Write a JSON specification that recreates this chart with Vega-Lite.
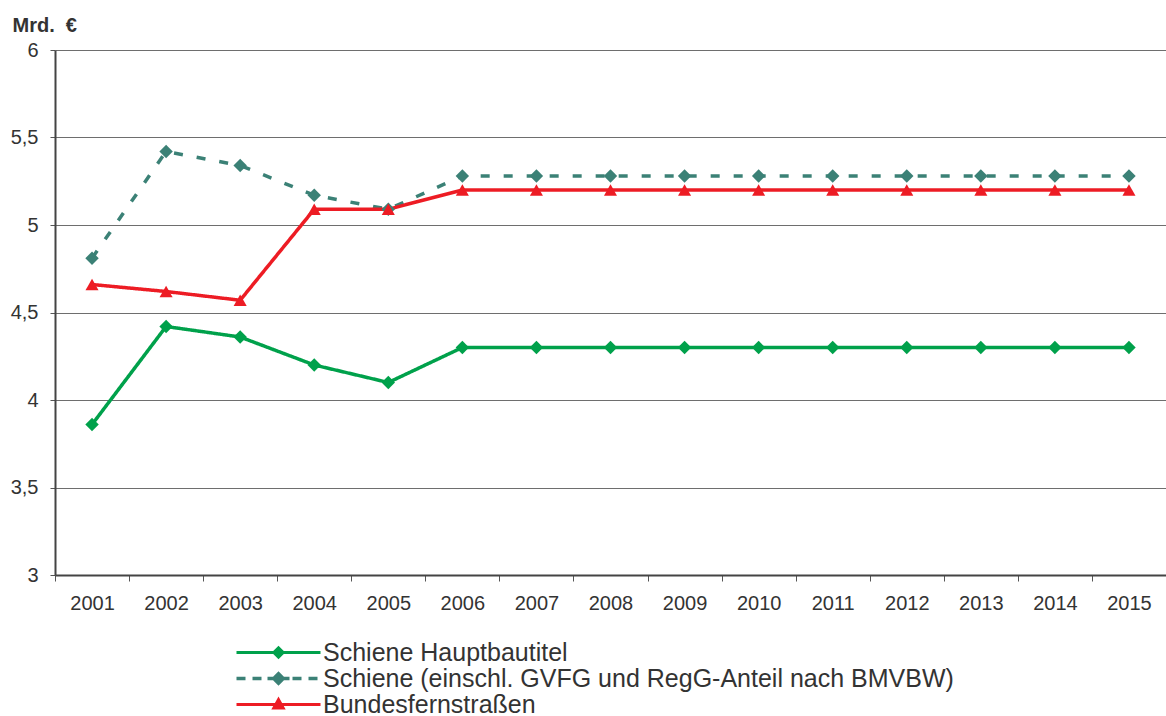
{
  "$schema": "https://vega.github.io/schema/vega-lite/v6.json",
  "width": 1111,
  "height": 525,
  "autosize": "none",
  "padding": {"left": 55, "top": 50, "right": 0, "bottom": 141},
  "background": "white",
  "config": {
    "view": {"stroke": null},
    "font": "Liberation Sans",
    "axis": {"labelFont": "Liberation Sans", "labelColor": "#333333", "labelFontSize": 20, "titleFont": "Liberation Sans"},
    "legend": {"labelFont": "Liberation Sans"}
  },
  "data": {
    "values": [
      {"year": "2001", "series": "Schiene Hauptbautitel", "value": 3.86},
      {"year": "2002", "series": "Schiene Hauptbautitel", "value": 4.42},
      {"year": "2003", "series": "Schiene Hauptbautitel", "value": 4.36},
      {"year": "2004", "series": "Schiene Hauptbautitel", "value": 4.2},
      {"year": "2005", "series": "Schiene Hauptbautitel", "value": 4.1},
      {"year": "2006", "series": "Schiene Hauptbautitel", "value": 4.3},
      {"year": "2007", "series": "Schiene Hauptbautitel", "value": 4.3},
      {"year": "2008", "series": "Schiene Hauptbautitel", "value": 4.3},
      {"year": "2009", "series": "Schiene Hauptbautitel", "value": 4.3},
      {"year": "2010", "series": "Schiene Hauptbautitel", "value": 4.3},
      {"year": "2011", "series": "Schiene Hauptbautitel", "value": 4.3},
      {"year": "2012", "series": "Schiene Hauptbautitel", "value": 4.3},
      {"year": "2013", "series": "Schiene Hauptbautitel", "value": 4.3},
      {"year": "2014", "series": "Schiene Hauptbautitel", "value": 4.3},
      {"year": "2015", "series": "Schiene Hauptbautitel", "value": 4.3},
      {"year": "2001", "series": "Schiene (einschl. GVFG und RegG-Anteil nach BMVBW)", "value": 4.81},
      {"year": "2002", "series": "Schiene (einschl. GVFG und RegG-Anteil nach BMVBW)", "value": 5.42},
      {"year": "2003", "series": "Schiene (einschl. GVFG und RegG-Anteil nach BMVBW)", "value": 5.34},
      {"year": "2004", "series": "Schiene (einschl. GVFG und RegG-Anteil nach BMVBW)", "value": 5.17},
      {"year": "2005", "series": "Schiene (einschl. GVFG und RegG-Anteil nach BMVBW)", "value": 5.09},
      {"year": "2006", "series": "Schiene (einschl. GVFG und RegG-Anteil nach BMVBW)", "value": 5.28},
      {"year": "2007", "series": "Schiene (einschl. GVFG und RegG-Anteil nach BMVBW)", "value": 5.28},
      {"year": "2008", "series": "Schiene (einschl. GVFG und RegG-Anteil nach BMVBW)", "value": 5.28},
      {"year": "2009", "series": "Schiene (einschl. GVFG und RegG-Anteil nach BMVBW)", "value": 5.28},
      {"year": "2010", "series": "Schiene (einschl. GVFG und RegG-Anteil nach BMVBW)", "value": 5.28},
      {"year": "2011", "series": "Schiene (einschl. GVFG und RegG-Anteil nach BMVBW)", "value": 5.28},
      {"year": "2012", "series": "Schiene (einschl. GVFG und RegG-Anteil nach BMVBW)", "value": 5.28},
      {"year": "2013", "series": "Schiene (einschl. GVFG und RegG-Anteil nach BMVBW)", "value": 5.28},
      {"year": "2014", "series": "Schiene (einschl. GVFG und RegG-Anteil nach BMVBW)", "value": 5.28},
      {"year": "2015", "series": "Schiene (einschl. GVFG und RegG-Anteil nach BMVBW)", "value": 5.28},
      {"year": "2001", "series": "Bundesfernstraßen", "value": 4.66},
      {"year": "2002", "series": "Bundesfernstraßen", "value": 4.62},
      {"year": "2003", "series": "Bundesfernstraßen", "value": 4.57},
      {"year": "2004", "series": "Bundesfernstraßen", "value": 5.09},
      {"year": "2005", "series": "Bundesfernstraßen", "value": 5.09},
      {"year": "2006", "series": "Bundesfernstraßen", "value": 5.2},
      {"year": "2007", "series": "Bundesfernstraßen", "value": 5.2},
      {"year": "2008", "series": "Bundesfernstraßen", "value": 5.2},
      {"year": "2009", "series": "Bundesfernstraßen", "value": 5.2},
      {"year": "2010", "series": "Bundesfernstraßen", "value": 5.2},
      {"year": "2011", "series": "Bundesfernstraßen", "value": 5.2},
      {"year": "2012", "series": "Bundesfernstraßen", "value": 5.2},
      {"year": "2013", "series": "Bundesfernstraßen", "value": 5.2},
      {"year": "2014", "series": "Bundesfernstraßen", "value": 5.2},
      {"year": "2015", "series": "Bundesfernstraßen", "value": 5.2}
    ]
  },
  "encoding": {
    "x": {
      "field": "year", "type": "ordinal",
      "scale": {"type": "band", "paddingInner": 0, "paddingOuter": 0},
      "axis": {
        "title": null, "labelAngle": 0, "tickBand": "extent", "tickSize": 6, "tickColor": "#555555",
        "domainColor": "#444444", "domainWidth": 2, "labelPadding": 12, "grid": false
      }
    },
    "y": {
      "field": "value", "type": "quantitative",
      "scale": {"domain": [3, 6], "nice": false, "zero": false},
      "axis": {
        "values": [3, 3.5, 4, 4.5, 5, 5.5, 6],
        "labelExpr": "replace(toString(datum.value), '.', ',')",
        "tickSize": 5, "tickColor": "#555555", "labelPadding": 12,
        "domainColor": "#444444", "domainWidth": 2,
        "grid": true, "gridColor": "#6e6e6e", "gridWidth": 1.2,
        "title": "Mrd. \u00a0€", "titleAngle": 0, "titleAlign": "left", "titleBaseline": "alphabetic",
        "titleX": -43, "titleY": -19, "titleFontSize": 20, "titleFontWeight": "bold", "titleColor": "#333333"
      }
    },
    "color": {
      "field": "series", "type": "nominal",
      "scale": {
        "domain": ["Schiene Hauptbautitel", "Schiene (einschl. GVFG und RegG-Anteil nach BMVBW)", "Bundesfernstraßen"],
        "range": ["#00a14b", "#3b8176", "#ed1c24"]
      },
      "legend": {
        "title": null, "orient": "none", "legendX": 211, "legendY": 590,
        "direction": "vertical",
        "labelFontSize": 25, "labelColor": "#333333", "labelOffset": 32, "labelLimit": 1000,
        "symbolSize": 400, "rowPadding": -2,
        "encode": {
          "symbols": {
            "update": {
              "shape": {"signal": "datum.value == 'Bundesfernstraßen' ? 'M-4.2,-0.16H4.2V0.16H-4.2Z M0,-0.8L0.72,0.5L-0.72,0.5Z' : datum.value == 'Schiene Hauptbautitel' ? 'M-4.2,-0.16H4.2V0.16H-4.2Z M0,-0.68L0.68,0L0,0.68L-0.68,0Z' : 'M-4.2,-0.17H-3.3V0.17H-4.2Z M-2.6,-0.17H-1.7V0.17H-2.6Z M-1.1,-0.17H1.1V0.17H-1.1Z M0,-0.72L0.72,0L0,0.72L-0.72,0Z M1.4,-0.17H2.3V0.17H1.4Z M3,-0.17H3.9V0.17H3Z'"},
              "size": {"value": 400},
              "fill": {"scale": "color", "field": "value"},
              "stroke": {"value": "transparent"},
              "strokeWidth": {"value": 0},
              "opacity": {"value": 1}
            }
          }
        }
      }
    }
  },
  "layer": [
    {
      "mark": {"type": "line", "strokeWidth": 3.5},
      "encoding": {
        "strokeDash": {
          "field": "series", "type": "nominal",
          "scale": {
            "domain": ["Schiene Hauptbautitel", "Schiene (einschl. GVFG und RegG-Anteil nach BMVBW)", "Bundesfernstraßen"],
            "range": [[1, 0], [9, 14], [1, 0]]
          },
          "legend": null
        }
      }
    },
    {
      "transform": [{"filter": "datum.series != 'Bundesfernstraßen'"}],
      "mark": {"type": "point", "filled": true, "opacity": 1, "shape": "diamond", "size": 180}
    },
    {
      "transform": [{"filter": "datum.series == 'Bundesfernstraßen'"}],
      "mark": {"type": "point", "filled": true, "opacity": 1, "shape": "triangle-up", "size": 170}
    }
  ]
}
